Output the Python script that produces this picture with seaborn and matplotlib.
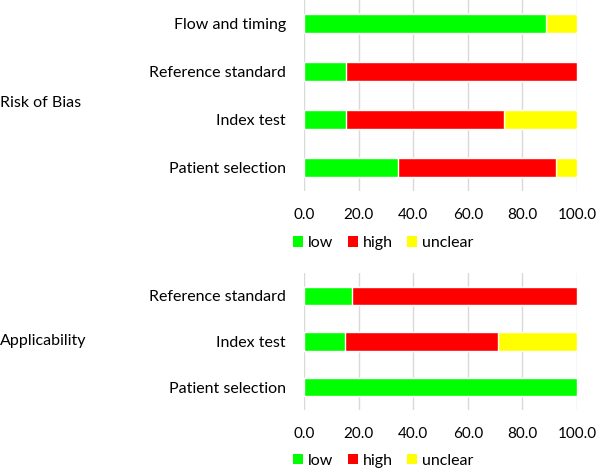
import matplotlib
matplotlib.use("Agg")
import matplotlib.pyplot as plt
import seaborn as sns
import pandas as pd
import numpy as np
from matplotlib.patches import Patch

sns.set_theme(style="white")
plt.rcParams['font.family'] = ['Lato', 'DejaVu Sans']
plt.rcParams['text.color'] = 'black'

# Data (percent)
rob_domains = ["Flow and timing", "Reference standard", "Index test", "Patient selection"]
rob_low = [88.5, 15.4, 15.4, 34.6]
rob_high = [0.0, 84.6, 57.7, 57.7]
rob_unclear = [11.5, 0.0, 26.9, 7.7]

app_domains = ["Reference standard", "Index test", "Patient selection"]
app_low = [17.6, 15.0, 100.0]
app_high = [82.4, 56.0, 0.0]
app_unclear = [0.0, 29.0, 0.0]

levels = ["low", "high", "unclear"]
colors = {"low": "#00FF00", "high": "#FF0000", "unclear": "#FFFF00"}
tick_vals = [0, 20, 40, 60, 80, 100]

fig = plt.figure(figsize=(5.96, 4.70), dpi=100)
W, H = 596, 470
FS = 11.5
TFS = 11

def make_axes(top_px, bottom_px):
    return fig.add_axes([304 / W, 1 - bottom_px / H, (577 - 304) / W, (bottom_px - top_px) / H])

def draw(ax, domains, low, high, unclear, legend_y):
    df = pd.DataFrame({"domain": domains, "low": low, "high": high, "unclear": unclear})
    df["c_low"] = df["low"]
    df["c_high"] = df["low"] + df["high"]
    df["c_unclear"] = df["c_high"] + df["unclear"]
    for lev in ["unclear", "high", "low"]:
        sns.barplot(data=df, y="domain", x="c_" + lev, order=domains, color=colors[lev],
                    saturation=1, width=0.4, ax=ax, orient="h")
    ax.set_xlim(0, 100)
    ax.set_xticks(tick_vals)
    ax.set_xticklabels([f"{v:.1f}" for v in tick_vals])
    ax.set_xlabel("")
    ax.set_ylabel("")
    ax.grid(axis="x", color="#D9D9D9", linewidth=1.0)
    ax.set_axisbelow(True)
    for s in ax.spines.values():
        s.set_visible(False)
    ax.tick_params(axis="x", length=0, pad=12, labelsize=TFS, colors="black")
    ax.tick_params(axis="y", length=0, pad=13, labelsize=FS, colors="black")
    handles = [Patch(facecolor=colors[l], edgecolor="none", label=l) for l in levels]
    ax.legend(handles=handles, loc="center left", bbox_to_anchor=(-0.065, legend_y), ncol=3,
              frameon=False, fontsize=FS, handlelength=0.65, handleheight=0.65,
              handletextpad=0.3, columnspacing=0.9, borderaxespad=0, labelcolor="black")

ax1 = make_axes(0, 191)
draw(ax1, rob_domains, rob_low, rob_high, rob_unclear, -0.272)
ax2 = make_axes(273, 410)
draw(ax2, app_domains, app_low, app_high, app_unclear, -0.37)

fig.text(0 / W, 1 - 103 / H, "Risk of Bias", fontsize=FS, va="center", ha="left", color="black")
fig.text(0 / W, 1 - 341 / H, "Applicability", fontsize=FS, va="center", ha="left", color="black")

fig.savefig("out.png", dpi=100, facecolor="white")
